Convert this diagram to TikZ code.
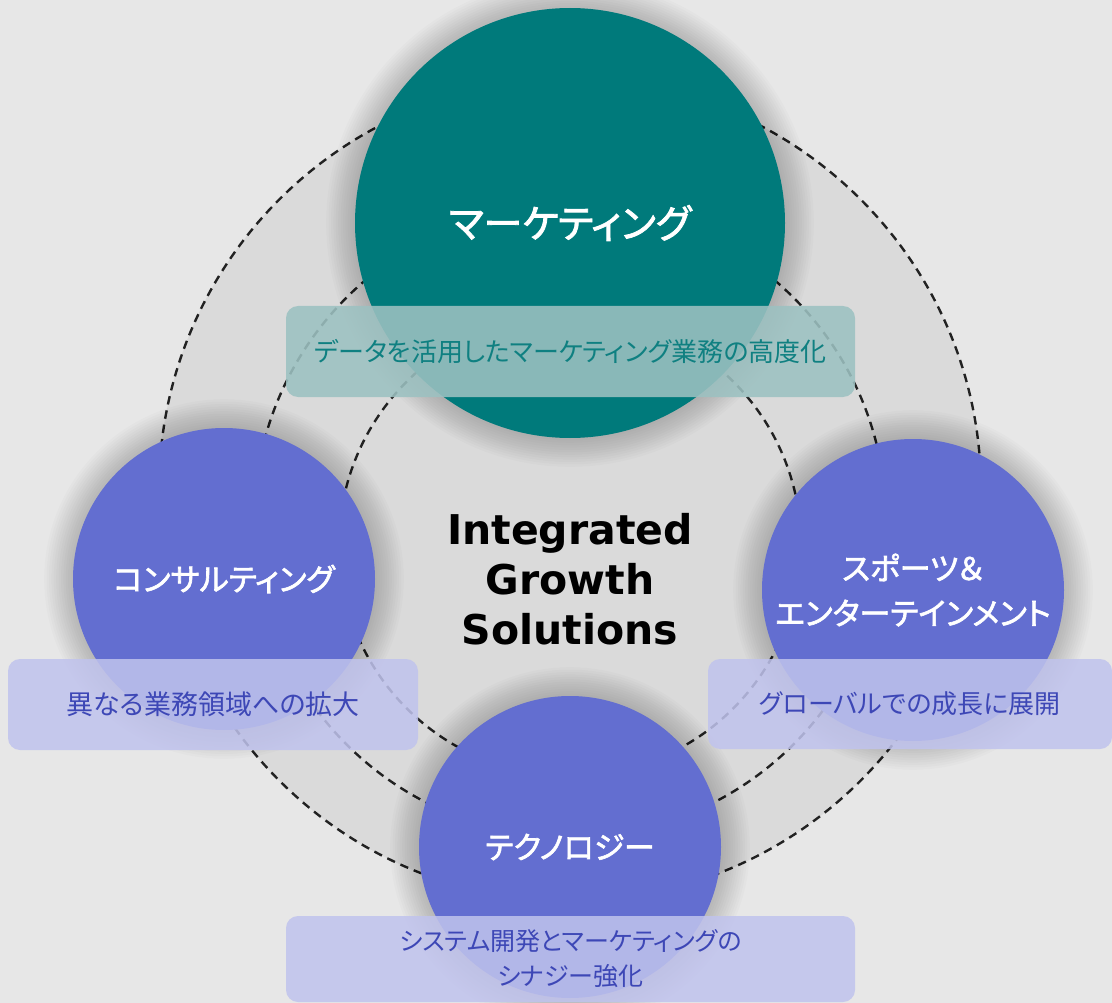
\documentclass[tikz,border=0pt]{standalone}
\usepackage{fontspec}
\setmainfont{DejaVu Sans}
\newfontfamily\jpfont{Noto Sans CJK JP}[RawFeature=+palt]
\newfontfamily\jptitle{Noto Sans CJK JP}[RawFeature=+palt, FakeBold=2]
\usetikzlibrary{positioning}

\definecolor{bgout}{HTML}{E7E7E7}
\definecolor{bgin}{HTML}{DADADA}
\definecolor{mktfill}{HTML}{007A7B}
\definecolor{mktbox}{HTML}{9CC1C1}
\definecolor{mkttext}{HTML}{0F8081}
\definecolor{segfill}{HTML}{636ED0}
\definecolor{segbox}{HTML}{C0C3ED}
\definecolor{segtext}{HTML}{3D47B6}
\definecolor{ringcol}{HTML}{222222}

\begin{document}
\begin{tikzpicture}[x=1pt,y=-1pt,
      ring/.style={
         draw=ringcol,
         line width=2.4pt,
         dash pattern=on 8.5pt off 6pt},
      halo/.style={
         fill=black,
         opacity=0.016},
      bigcircle/.style={
         circle,
         fill=mktfill,
         inner sep=0pt,
         minimum size=430pt,
         text=white,
         font=\jptitle\fontsize{39}{44}\selectfont},
      segcircle/.style={
         circle,
         fill=segfill,
         inner sep=0pt,
         minimum size=302pt,
         text=white,
         align=center,
         font=\jptitle\fontsize{31}{45}\selectfont},
      mktlabel/.style={
         rectangle,
         rounded corners=12pt,
         fill=mktbox,
         fill opacity=0.88,
         text opacity=1,
         text=mkttext,
         inner sep=0pt,
         minimum height=91pt,
         font=\jpfont\fontsize{26}{35}\selectfont},
      seglabel/.style={
         rectangle,
         rounded corners=12pt,
         fill=segbox,
         fill opacity=0.86,
         text opacity=1,
         text=segtext,
         inner sep=0pt,
         align=center,
         minimum height=91pt,
         font=\jpfont\fontsize{26}{35}\selectfont},
      hubtext/.style={
         align=center,
         text=black,
         font=\bfseries\fontsize{41}{50}\selectfont}
      ]
      \fill[bgout] (0,0) rectangle (1112,1003);
      \useasboundingbox (0,0) rectangle (1112,1003);
      \fill[bgin] (570,490) circle (411);
      % dashed rings
      \draw[ring] (570,490) circle (411);
      \draw[ring] (570,521) circle (316);
      \draw[ring] (570,545) circle (231);
      % soft shadows behind the circles
      \foreach \cx/\cy/\r in {570/223/215, 224/579/151, 913/590/151, 570/847/151}
        \foreach \k in {1,...,12}
          \fill[halo] (\cx,\cy) circle ({\r+2.4*\k});
      \node[bigcircle] (mkt) at (570,223) {マーケティング};
      \node[segcircle] (cons) at (224,579) {コンサルティング};
      \node[segcircle] (sport) at (913,590) {スポーツ＆\\エンターテインメント};
      \node[segcircle] (tech) at (570,847) {テクノロジー};
      \node[mktlabel, minimum width=569pt] (mktl) at (570.5,351.5) {データを活用したマーケティング業務の高度化};
      \node[seglabel, minimum width=410pt, font=\jpfont\fontsize{27}{35}\selectfont] (consl) at (213,704.5) {異なる業務領域への拡大};
      \node[seglabel, minimum width=404pt, minimum height=90pt] (sportl) at (910,704) {グローバルでの成長に展開};
      \node[seglabel, minimum width=569pt, minimum height=86pt, font=\jpfont\fontsize{25}{35}\selectfont] (techl) at (570.5,959) {システム開発とマーケティングの\\シナジー強化};
      \node[hubtext] (hub) at (570,579) {Integrated\\Growth\\Solutions};
\end{tikzpicture}
\end{document}
